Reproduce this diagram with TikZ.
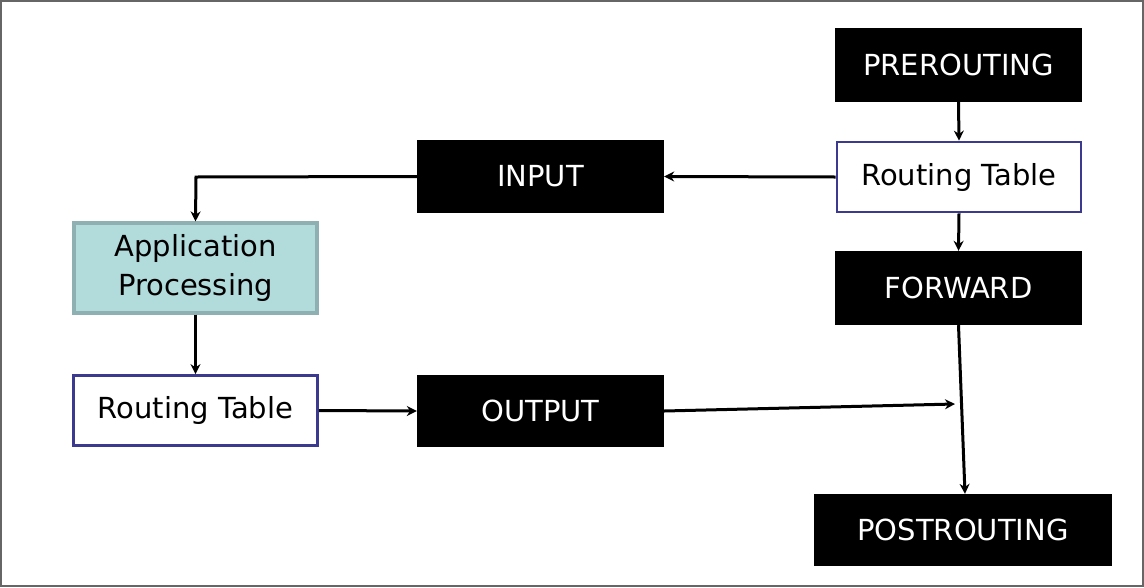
\documentclass[tikz,border=0pt]{standalone}
\usepackage{fontspec}
\setmainfont{DejaVu Sans}
\usetikzlibrary{arrows.meta}
\definecolor{framegray}{HTML}{666666}
\definecolor{tableblue}{HTML}{3C3A8E}
\definecolor{appfill}{HTML}{B2DBDC}
\definecolor{appedge}{HTML}{8EB0B2}
\tikzset{
  chain/.style={rectangle, fill=black, text=white, inner sep=0pt,
    minimum width=247pt, minimum height=74pt, font=\fontsize{29}{33}\selectfont},
  rtable/.style={rectangle, draw=tableblue, line width=2.8pt, fill=white, inner sep=0pt,
    minimum width=244pt, minimum height=70pt, font=\fontsize{29}{33}\selectfont},
  appbox/.style={rectangle, draw=appedge, line width=3.2pt, fill=appfill, inner sep=0pt,
    minimum width=243pt, minimum height=90pt, align=center,
    font=\fontsize{29}{39}\selectfont},
  flow/.style={draw=black, line width=3pt, -{Stealth[length=10pt,width=10pt]}}
}
\begin{document}
\begin{tikzpicture}[x=1pt,y=-1pt]
  \useasboundingbox (0,0) rectangle (1144,587);
  \draw[framegray, line width=2pt] (1,1) rectangle (1143,585.5);

  % chains on the right-hand column
  \node[chain] (pre) at (958.5,65) {\raisebox{-2pt}{PREROUTING}};
  \node[rtable] (rtr) at (959,177) {\raisebox{-2pt}{Routing Table}};
  \node[chain] (fwd) at (958.5,288) {\raisebox{-2pt}{FORWARD}};
  \node[chain, minimum width=298pt, minimum height=72pt] (post) at (963,530) {\raisebox{-2pt}{POSTROUTING}};

  % local path
  \node[chain, minimum height=73pt] (inp) at (540.5,176.5) {\raisebox{-2pt}{INPUT}};
  \node[appbox] (app) at (195.5,268) {Application\\Processing};
  \node[rtable] (rtl) at (195.5,410.5) {\raisebox{-2pt}{Routing Table}};
  \node[chain, minimum height=72pt] (out) at (540.5,411) {\raisebox{-2pt}{OUTPUT}};

  \coordinate (turn) at (196,177);
  \coordinate (merge) at (955,404);

  % packet flow
  \draw[flow] (pre.south) -- (rtr.north);
  \draw[flow] (rtr.south) -- (fwd.north);
  \draw[flow] (rtr.west) -- (inp.east);
  \draw[flow] (inp.west) -- (turn) -- (app.north);
  \draw[flow] (app.south) -- (rtl.north);
  \draw[flow] (rtl.east) -- (out.west);
  \draw[flow] (out.east) -- (merge);
  \draw[flow] (fwd.south) -- ([xshift=2pt]post.north);
\end{tikzpicture}
\end{document}
